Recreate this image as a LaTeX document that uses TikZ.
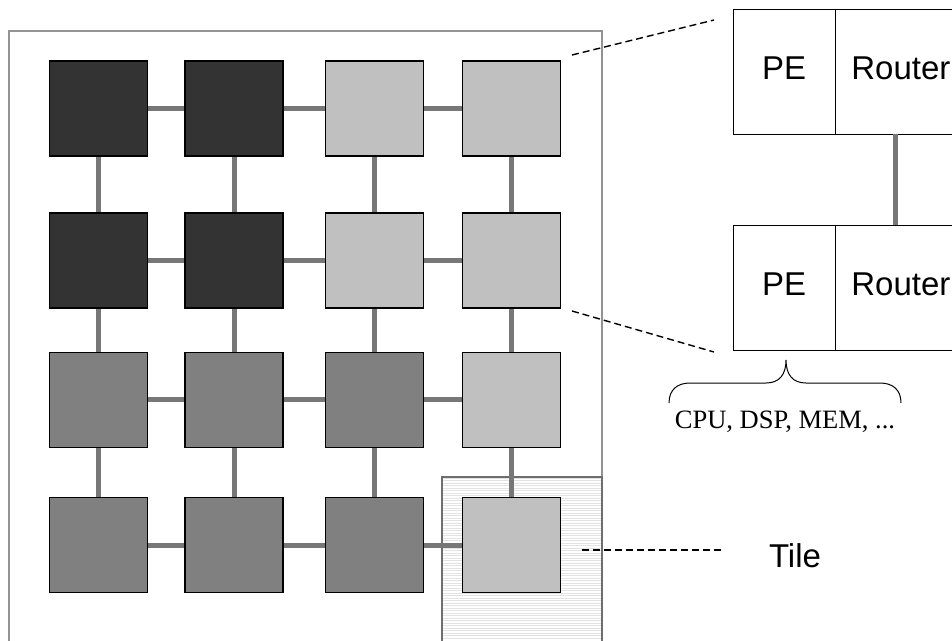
\documentclass[tikz,border=0pt]{standalone}
\usepackage{fontspec}
\setmainfont{Liberation Serif}
\newfontfamily\labelfont{Liberation Sans}
\usetikzlibrary{positioning}
\definecolor{pedark}{HTML}{333333}
\definecolor{pemid}{HTML}{808080}
\definecolor{pelight}{HTML}{C0C0C0}
\definecolor{linkgray}{HTML}{777777}
\tikzset{
  tilebox/.style={draw=black,line width=1.3pt,minimum width=98pt,minimum height=95pt,inner sep=0pt},
  link/.style={linkgray,line width=5pt},
  zoomline/.style={dash pattern=on 7pt off 4pt,line width=1.4pt},
  partbox/.style={draw=black,line width=0.9pt,minimum height=125pt,inner sep=0pt,
    text height=23pt,text depth=8pt,font=\labelfont\fontsize{33}{36}\selectfont}
}

\begin{document}
\begin{tikzpicture}[x=1pt,y=-1pt]
    \clip (0,0) rectangle (952,640);
    % chip outline
    \draw[gray!85!white,line width=1.3pt] (9,31) rectangle (602,680);
    % highlighted tile
    \fill[white] (442,477) rectangle (602,680);
    \foreach \yy in {478,480.5,...,640}
        \draw[gray!22,line width=0.9pt] (443,\yy) -- (601,\yy);
    \draw[black!57,line width=1.8pt] (442,680) |- (602,477) -- (602,680);
    % 4x4 mesh
    \foreach \r/\y/\fa/\fb/\fc/\fd in {1/108.5/pedark/pedark/pelight/pelight,
                                       2/260.5/pedark/pedark/pelight/pelight,
                                       3/399.7/pemid/pemid/pemid/pelight,
                                       4/545/pemid/pemid/pemid/pelight}{
        \foreach \c/\x/\f in {1/98.5/\fa,2/234/\fb,3/374.7/\fc,4/511.7/\fd}
            \node[tilebox,fill=\f] (t\r\c) at (\x,\y) {};
    }
    \foreach \r in {1,...,4}
        \foreach \c/\d in {1/2,2/3,3/4}
            \draw[link] (t\r\c) -- (t\r\d);
    \foreach \c in {1,...,4}
        \foreach \r/\s in {1/2,2/3,3/4}
            \draw[link] (t\r\c) -- (t\s\c);
    % two tiles in detail
    \node[partbox,minimum width=102pt] (pe1) at (784,71.5) {PE};
    \node[partbox,minimum width=130pt,right=0pt of pe1] (rt1) {Router};
    \node[partbox,minimum width=102pt] (pe2) at (784,288) {PE};
    \node[partbox,minimum width=130pt,right=0pt of pe2] (rt2) {Router};
    \draw[link] ([xshift=-5pt]rt1.south) -- ([xshift=-5pt]rt2.north);
    % zoom lines
    \coordinate (zoomA) at (572,55);
    \coordinate (zoomB) at (714,20);
    \coordinate (zoomC) at (572,311);
    \coordinate (zoomD) at (714,352);
    \draw[zoomline] (zoomA) -- (zoomB);
    \draw[zoomline] (zoomC) -- (zoomD);
    % brace under PE
    \draw[line width=1pt] (669,403) .. controls (669,390) and (677,383) .. (690,383)
        -- (766,383) .. controls (779,383) and (786,375) .. (786,360)
        .. controls (786,375) and (793,383) .. (806,383)
        -- (880,383) .. controls (893,383) and (901,390) .. (901,403);
    \node[inner sep=0pt,font=\fontsize{26.5}{30}\selectfont] (pelist) at (785,422) {CPU, DSP, MEM, ...};
    % tile label
    \node[inner sep=0pt,font=\labelfont\fontsize{33}{36}\selectfont] (tilelabel) at (795,555.5) {Tile};
    \coordinate (tileA) at (582,550);
    \coordinate (tileB) at (724,550);
    \draw[zoomline] (tileA) -- (tileB);
\end{tikzpicture}
\end{document}
